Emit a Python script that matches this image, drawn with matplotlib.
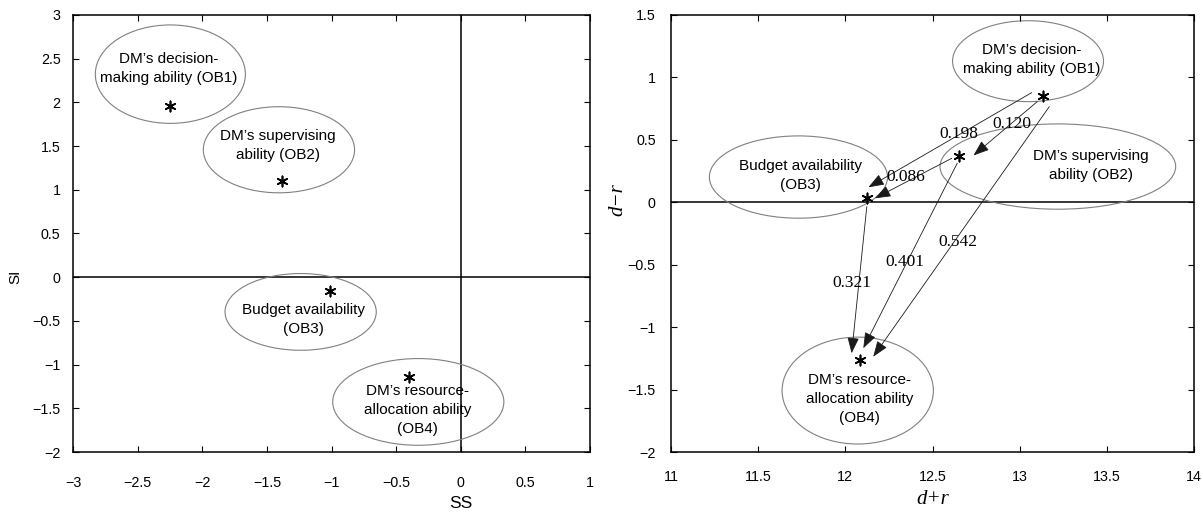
import matplotlib
matplotlib.use("Agg")
import matplotlib.pyplot as plt
from matplotlib.patches import Ellipse
import matplotlib.transforms as mtransforms

plt.rcParams['font.family'] = ['Liberation Sans', 'DejaVu Sans']
plt.rcParams['axes.unicode_minus'] = True

# factor names (text inside the ellipses)
names = ["DM\u2019s decision-\nmaking ability (OB1)",
         "DM\u2019s supervising\nability (OB2)",
         "Budget availability\n(OB3)",
         "DM\u2019s resource-\nallocation ability\n(OB4)"]

# left chart: SS / SI
ss = [-2.25, -1.38, -1.01, -0.40]
si = [1.96, 1.10, -0.155, -1.14]
left_ell_xy = [(-2.247, 2.323), (-1.407, 1.458), (-1.239, -0.397), (-0.329, -1.427)]
left_ell_wh = [(1.161, 1.126), (1.170, 0.985), (1.170, 0.878), (1.324, 0.992)]
left_txt_xy = [(-2.259, 2.389), (-1.415, 1.511), (-1.216, -0.485), (-0.333, -1.515)]

# right chart: d+r / d-r
d_plus_r = [13.136, 12.654, 12.125, 12.085]
d_minus_r = [0.855, 0.371, 0.035, -1.26]
right_ell_xy = [(13.048, 1.130), (13.219, 0.286), (11.731, 0.202), (12.071, -1.508)]
right_ell_wh = [(0.866, 0.648), (1.352, 0.683), (1.022, 0.659), (0.868, 0.856)]
right_txt_xy = [(13.070, 1.140), (13.411, 0.294), (11.741, 0.211), (12.081, -1.576)]

# influence arrows (start, tip) and weights
arrow_from = [(13.069, 0.878), (13.101, 0.806), (12.610, 0.352),
              (12.123, -0.035), (12.642, 0.313), (13.170, 0.766)]
arrow_to = [(12.132, 0.120), (12.735, 0.375), (12.170, 0.032),
            (12.036, -1.209), (12.103, -1.169), (12.160, -1.237)]
weights = ["0.198", "0.120", "0.086", "0.321", "0.401", "0.542"]
weight_xy = [(12.652, 0.55), (12.954, 0.63), (12.345, 0.205),
             (12.038, -0.649), (12.342, -0.476), (12.648, -0.316)]

fig = plt.figure(figsize=(12.03, 5.13), dpi=100)
ax1 = fig.add_axes([0.0607, 0.1189, 0.4298, 0.8519])
ax2 = fig.add_axes([0.5578, 0.1189, 0.4347, 0.8519])

star = (6, 2, 0)


def style(ax, xpad, ypad):
    ax.tick_params(direction='in', top=True, right=True, length=4, width=0.8,
                   labelsize=10.3)
    ax.tick_params(axis='x', pad=xpad)
    ax.tick_params(axis='y', pad=ypad)
    for sp in ax.spines.values():
        sp.set_linewidth(1.1)
    ax.axhline(0, color='black', lw=1.1, zorder=1)


# ---- left ----
ax1.set_xlim(-3, 1)
ax1.set_ylim(-2, 3)
ax1.set_xticks([-3, -2.5, -2, -1.5, -1, -0.5, 0, 0.5, 1])
ax1.set_xticklabels(['\u22123', '\u22122.5', '\u22122', '\u22121.5', '\u22121',
                     '\u22120.5', '0', '0.5', '1'])
ax1.set_yticks([-2, -1.5, -1, -0.5, 0, 0.5, 1, 1.5, 2, 2.5, 3])
ax1.set_yticklabels(['\u22122', '\u22121.5', '\u22121', '\u22120.5', '0', '0.5',
                     '1', '1.5', '2', '2.5', '3'])
style(ax1, 17, 9)
ax1.axvline(0, color='black', lw=1.1, zorder=1)
ax1.scatter(ss, si, marker=star, s=55, color='black', linewidths=1.2, zorder=3)
for (cx, cy), (w, h), (tx, ty), nm in zip(left_ell_xy, left_ell_wh, left_txt_xy, names):
    ax1.add_patch(Ellipse((cx, cy), w, h, fill=False, ec='#808080', lw=0.8))
    ax1.text(tx, ty, nm, ha='center', va='center', fontsize=11, linespacing=1.45)
tr = mtransforms.blended_transform_factory(ax1.transData, fig.transFigure)
ax1.text(0, 1 - 503 / 513, 'SS', transform=tr, ha='center', va='center', fontsize=12.5)
tr = mtransforms.blended_transform_factory(fig.transFigure, ax1.transData)
ax1.text(15 / 1203, 0, 'SI', transform=tr, ha='center', va='center',
         rotation=90, fontsize=11)

# ---- right ----
ax2.set_xlim(11, 14)
ax2.set_ylim(-2, 1.5)
ax2.set_xticks([11, 11.5, 12, 12.5, 13, 13.5, 14])
ax2.set_xticklabels(['11', '11.5', '12', '12.5', '13', '13.5', '14'])
ax2.set_yticks([-2, -1.5, -1, -0.5, 0, 0.5, 1, 1.5])
ax2.set_yticklabels(['\u22122', '\u22121.5', '\u22121', '\u22120.5', '0', '0.5',
                     '1', '1.5'])
style(ax2, 13, 11)
ax2.scatter(d_plus_r, d_minus_r, marker=star, s=55, color='black', linewidths=1.2,
            zorder=3)
for (cx, cy), (w, h), (tx, ty), nm in zip(right_ell_xy, right_ell_wh, right_txt_xy, names):
    ax2.add_patch(Ellipse((cx, cy), w, h, fill=False, ec='#808080', lw=0.8))
    ax2.text(tx, ty, nm, ha='center', va='center', fontsize=11, linespacing=1.45)
for p0, p1 in zip(arrow_from, arrow_to):
    ax2.annotate('', xy=p1, xytext=p0,
                 arrowprops=dict(arrowstyle='-|>,head_length=0.65,head_width=0.24',
                                 color='#1a1a1a', lw=0.6,
                                 mutation_scale=15, shrinkA=0, shrinkB=0))
for (wx, wy), wt in zip(weight_xy, weights):
    ax2.text(wx, wy, wt, ha='center', va='center', fontsize=12.5,
             family='Liberation Serif')
tr = mtransforms.blended_transform_factory(ax2.transAxes, fig.transFigure)
ax2.text(0.5, 1 - 500 / 513, 'd+r', transform=tr, ha='center', va='center',
         fontsize=15, family='Liberation Serif', style='italic')
tr = mtransforms.blended_transform_factory(fig.transFigure, ax2.transData)
ax2.text(618 / 1203, 0.02, 'd\u2212r', transform=tr, ha='center', va='center',
         rotation=90, fontsize=15, family='Liberation Serif', style='italic')

fig.savefig('out.png', dpi=100)
